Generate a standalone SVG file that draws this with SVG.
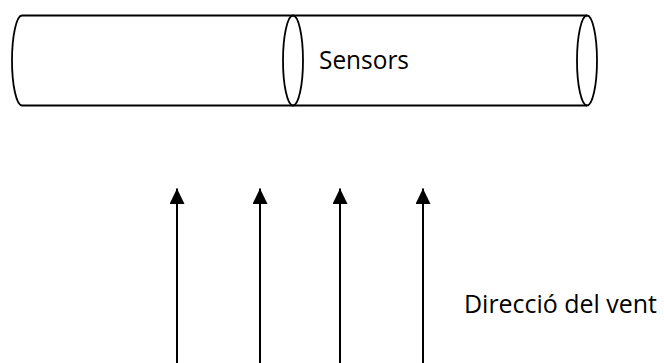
<svg xmlns="http://www.w3.org/2000/svg" width="664" height="363" viewBox="0 0 664 363">
  <defs>
    <style>
      .outline { fill: none; stroke: #000; stroke-width: 1.8; }
      .wind { stroke: #000; stroke-width: 2; fill: none; }
      .label { font-family: "Open Sans", "Liberation Sans", sans-serif; font-size: 25.5px; fill: #000; }
    </style>
    <!-- filled triangle, drawn pointing along +x so orient="auto" aims it with the line -->
    <marker id="head" viewBox="0 0 16 15" refX="15.5" refY="7.5" markerWidth="16" markerHeight="15" markerUnits="userSpaceOnUse" orient="auto">
      <path d="M0,0 L15.5,7.5 L0,15 Z" fill="#000"/>
    </marker>
  </defs>

  <rect width="664" height="363" fill="#fff"/>

  <!-- first tube segment -->
  <g id="tube-left">
    <path class="outline" d="M293,15.5 L22,15.5 A10,45 0 0 0 22,105.5 L293,105.5"/>
    <ellipse class="outline" cx="293" cy="60.5" rx="10" ry="45"/>
  </g>

  <!-- second tube segment with the sensors -->
  <g id="tube-sensors">
    <path class="outline" d="M293,15.5 L587,15.5 M293,105.5 L587,105.5"/>
    <ellipse class="outline" cx="587" cy="60.5" rx="10" ry="45"/>
    <text class="label" x="319" y="68.5" textLength="90" lengthAdjust="spacingAndGlyphs">Sensors</text>
  </g>

  <!-- wind arrows -->
  <g id="connectors">
    <line class="wind" x1="177" y1="363" x2="177" y2="188.5" marker-end="url(#head)"/>
    <line class="wind" x1="260" y1="363" x2="260" y2="188.5" marker-end="url(#head)"/>
    <line class="wind" x1="340" y1="363" x2="340" y2="188.5" marker-end="url(#head)"/>
    <line class="wind" x1="423" y1="363" x2="423" y2="188.5" marker-end="url(#head)"/>
  </g>

  <g id="wind-label">
    <text class="label" x="464" y="312.5" textLength="193" lengthAdjust="spacingAndGlyphs">Direcció del vent</text>
  </g>
</svg>
